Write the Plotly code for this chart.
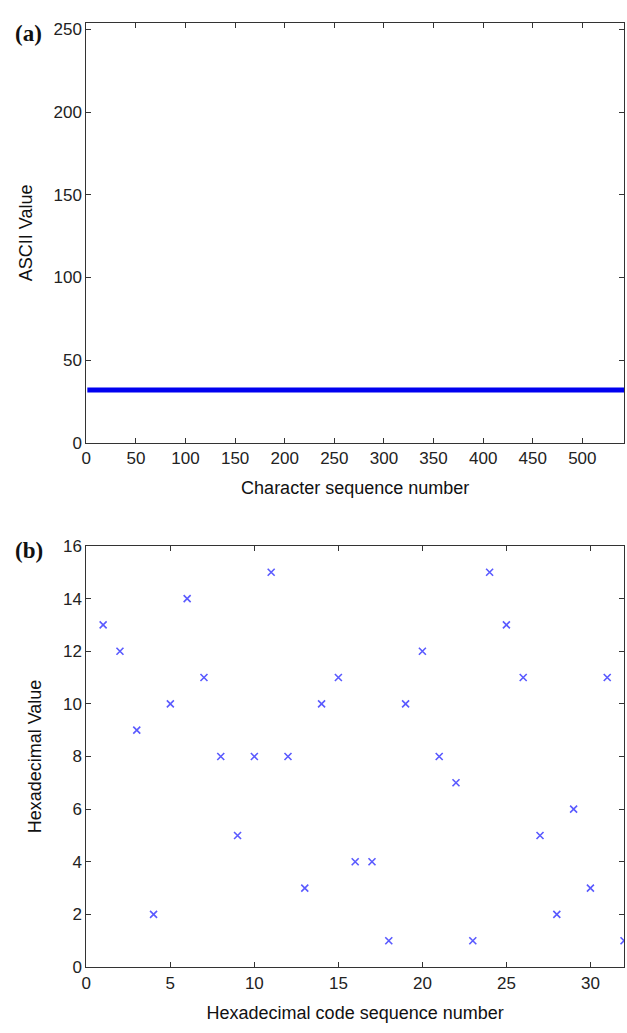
import plotly.graph_objects as go

# (a) ASCII values of the plaintext characters (all spaces -> 32)
n_chars = 542
char_seq = list(range(1, n_chars + 1))
ascii_values = [32] * n_chars

# (b) hexadecimal codes
hex_seq = list(range(1, 33))
hex_values = [13, 12, 9, 2, 10, 14, 11, 8, 5, 8, 15, 8, 3, 10, 11, 4,
              4, 1, 10, 12, 8, 7, 1, 15, 13, 11, 5, 2, 6, 3, 11, 1]

W, H = 627, 1033
x0, x1 = 82 / W, 624 / W
ya = [1 - 442 / H, 1 - 14 / H]
yb = [1 - 976 / H, 1 - 547 / H]

tickfont = dict(family="Liberation Sans, Arial, sans-serif", size=17, color="#222")
titlefont = dict(family="Liberation Sans, Arial, sans-serif", size=18, color="#111")

fig = go.Figure()
fig.add_trace(go.Scatter(x=char_seq, y=ascii_values, mode="lines",
                         line=dict(color="#0000f0", width=5),
                         xaxis="x", yaxis="y", showlegend=False))
fig.add_trace(go.Scatter(x=hex_seq, y=hex_values, mode="markers",
                         marker=dict(symbol="x-thin", size=7,
                                     line=dict(color="#5a5aff", width=1.6)),
                         xaxis="x2", yaxis="y2", showlegend=False))

axis_common = dict(showgrid=False, zeroline=False, showline=True, linecolor="#333",
                   linewidth=1.2, mirror="ticks", ticks="inside", ticklen=5,
                   tickcolor="#333", tickfont=tickfont)

fig.update_layout(
    width=W, height=H,
    margin=dict(l=0, r=0, t=0, b=0),
    plot_bgcolor="white", paper_bgcolor="white",
    xaxis=dict(domain=[x0, x1], anchor="y", range=[0, 542], tickvals=list(range(0, 501, 50)),
               title=dict(text="Character sequence number", font=titlefont, standoff=14),
               **axis_common),
    yaxis=dict(domain=ya, anchor="x", range=[0, 254], tickvals=list(range(0, 251, 50)),
               title=dict(text="ASCII Value", font=titlefont, standoff=16),
               **axis_common),
    xaxis2=dict(domain=[x0, x1], anchor="y2", range=[0, 32], tickvals=list(range(0, 31, 5)),
                title=dict(text="Hexadecimal code sequence number", font=titlefont, standoff=14),
                **axis_common),
    yaxis2=dict(domain=yb, anchor="x2", range=[0, 16], tickvals=list(range(0, 17, 2)),
                title=dict(text="Hexadecimal Value", font=titlefont, standoff=16),
                **axis_common),
    annotations=[
        dict(text="<b>(a)</b>", x=8 / W, y=1 - 25 / H, xref="paper", yref="paper",
             xanchor="left", yanchor="middle", showarrow=False,
             font=dict(family="Liberation Serif, Times New Roman, serif", size=23, color="#111")),
        dict(text="<b>(b)</b>", x=8 / W, y=1 - 552 / H, xref="paper", yref="paper",
             xanchor="left", yanchor="middle", showarrow=False,
             font=dict(family="Liberation Serif, Times New Roman, serif", size=23, color="#111")),
    ],
)

fig.write_html("out.html", config={"displayModeBar": False},
               post_script="document.body.style.margin='0';document.body.style.overflow='hidden';")
